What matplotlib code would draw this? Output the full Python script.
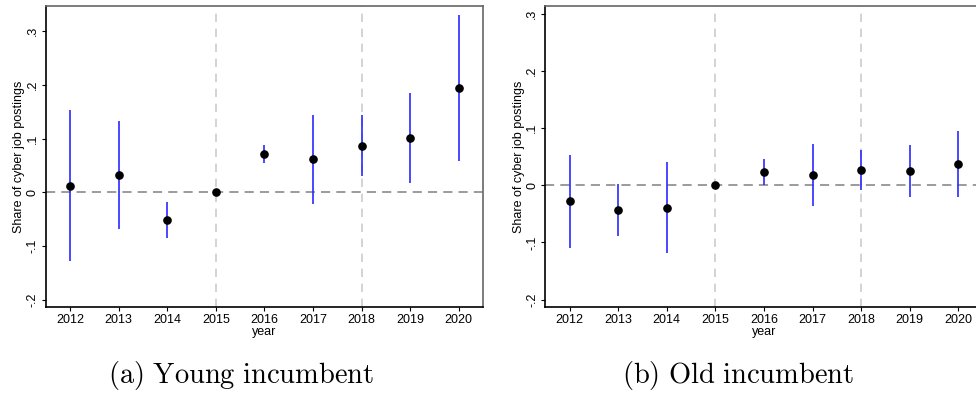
import matplotlib
matplotlib.use("Agg")
import matplotlib.pyplot as plt
import numpy as np

WIDTH = 976
HEIGHT = 396
DPI = 100

years = [2012, 2013, 2014, 2015, 2016, 2017, 2018, 2019, 2020]

# young incumbent: point estimates and 95% CI bounds
young_coef = [0.0124, 0.032, -0.052, 0.0, 0.071, 0.0615, 0.087, 0.102, 0.195]
young_lo = [-0.127, -0.068, -0.086, 0.0, 0.054, -0.021, 0.030, 0.018, 0.059]
young_hi = [0.153, 0.132, -0.018, 0.0, 0.088, 0.144, 0.1435, 0.185, 0.331]

# old incumbent
old_coef = [-0.0275, -0.043, -0.039, 0.0, 0.023, 0.0175, 0.027, 0.0245, 0.037]
old_lo = [-0.109, -0.089, -0.118, 0.0, 0.0, -0.037, -0.008, -0.020, -0.020]
old_hi = [0.054, 0.003, 0.040, 0.0, 0.046, 0.072, 0.0625, 0.070, 0.095]

yticks = [-0.2, -0.1, 0.0, 0.1, 0.2, 0.3]
ytick_labels = ['-.2', '-.1', '0', '.1', '.2', '.3']
event_years = [2015, 2018]

plt.rcParams['font.family'] = ['Liberation Sans', 'DejaVu Sans']
plt.rcParams['mathtext.fontset'] = 'cm'


def draw_panel(ax, coef, lo, hi, ylim):
    for yr in event_years:
        ax.axvline(yr, color='#cccccc', ls=(0, (5, 4)), lw=1.2, zorder=1)
    ax.axhline(0, color='#808080', ls=(0, (6, 4)), lw=1.1, zorder=1)
    has_ci = [i for i in range(len(years)) if hi[i] != lo[i]]
    ax.vlines([years[i] for i in has_ci], [lo[i] for i in has_ci],
              [hi[i] for i in has_ci], color='#2a2aff', lw=1.2, zorder=2)
    ax.plot(years, coef, 'o', color='black', ms=5.2, zorder=3)

    ax.set_xlim(2011.5, 2020.5)
    ax.set_ylim(*ylim)
    ax.set_xticks(years)
    ax.set_xticklabels([str(y) for y in years], fontsize=9)
    ax.set_yticks(yticks)
    ax.set_yticklabels(ytick_labels, fontsize=9, rotation=90, va='center')
    ax.tick_params(direction='out', length=3, width=0.8, pad=2)
    ax.set_xlabel('year', fontsize=9, labelpad=0)
    ax.set_ylabel('Share of cyber job postings', fontsize=9, labelpad=1)
    for side in ['left', 'bottom']:
        ax.spines[side].set_color('black')
        ax.spines[side].set_linewidth(1.2)
    for side in ['top', 'right']:
        ax.spines[side].set_color('#666666')
        ax.spines[side].set_linewidth(1.2)


fig = plt.figure(figsize=(WIDTH / DPI, HEIGHT / DPI), dpi=DPI)
ax_a = fig.add_axes([45.7 / WIDTH, 89 / HEIGHT, 437.3 / WIDTH, 301 / HEIGHT])
ax_b = fig.add_axes([545.3 / WIDTH, 89 / HEIGHT, 437.3 / WIDTH, 301 / HEIGHT])

draw_panel(ax_a, young_coef, young_lo, young_hi, (-0.2136, 0.347))
draw_panel(ax_b, old_coef, old_lo, old_hi, (-0.213, 0.314))

# subfigure captions
fig.text(241 / WIDTH, 1 - 376 / HEIGHT, r'$\mathrm{(a)\ Young\ incumbent}$',
         ha='center', va='center', fontsize=20.5)
fig.text(738 / WIDTH, 1 - 376 / HEIGHT, r'$\mathrm{(b)\ Old\ incumbent}$',
         ha='center', va='center', fontsize=20.5)

fig.savefig('out.png', dpi=DPI)
